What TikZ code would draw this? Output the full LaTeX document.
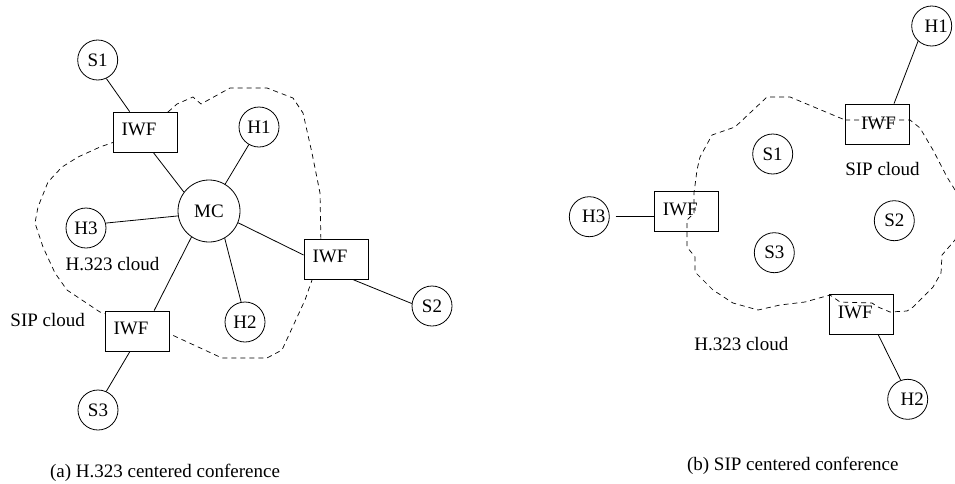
\documentclass[tikz,border=0pt]{standalone}
\usepackage{fontspec}
\setmainfont{Liberation Serif}
\begin{document}
\begin{tikzpicture}[x=1pt,y=-1pt,line width=0.8pt,
  every node/.style={font=\fontsize{19}{22}\selectfont},
  site/.style={circle,draw,minimum size=40pt,inner sep=0pt},
  hub/.style={circle,draw,minimum size=62pt,inner sep=0pt},
  iwfbox/.style={rectangle,draw,minimum width=64pt,minimum height=40pt,
    inner sep=0pt,text height=12pt,text depth=4.6pt},
  opaque/.style={fill=white},
  cloudline/.style={dash pattern=on 5pt off 4pt,line width=0.7pt,line join=round},
  link/.style={line width=0.8pt}]
\clip (0,0) rectangle (955,483);

% ---------------- (a) H.323 centered conference ----------------
% H.323 cloud outline (runs behind the IWF boxes)
\draw[cloudline] (168,112) -- (177,104) -- (193,97) -- (201,104) -- (230,88)
  -- (267,88) -- (293,98) -- (303,113) -- (312,153) -- (320,193) -- (321,245)
  -- (312,280) -- (305,300) -- (282,350) -- (267,358) -- (222,358) -- (170,334)
  -- (100,312) -- (67,290) -- (55,273) -- (43,247) -- (35,223) -- (38,207)
  -- (48,182) -- (62,167) -- (78,157) -- (100,147) -- (120,140) -- cycle;

\node[site] (s1a) at (97.7,60) {S1};
\node[iwfbox,opaque] (iwfa1) at (145,132) {IWF\hspace*{12pt}};
\node[site] (h1a) at (259,127) {H1};
\node[hub] (mc) at (209,211) {MC};
\node[site] (h3a) at (86,228) {H3};
\node[iwfbox,opaque] (iwfa2) at (336,259) {IWF\hspace*{12pt}};
\node[site] (s2a) at (432,306) {S2};
\node[site] (h2a) at (245,322) {H2};
\node[iwfbox,opaque] (iwfa3) at (137,331) {IWF\hspace*{12pt}};
\node[site] (s3a) at (98,410) {S3};

\node[anchor=base] (h323a) at (112.5,270.7) {H.323 cloud};
\node[anchor=base] (sipa) at (47.7,326.7) {SIP cloud};
\node[anchor=base] (capa) at (165,477) {(a) H.323 centered conference};

\draw[link] (s1a.-65) -- (iwfa1.127);
\draw[link] (iwfa1.-68) -- (mc.143);
\draw[link] (h1a.240) -- (mc.59);
\draw[link] (h3a.14) -- (mc.189);
\draw[link] (mc.-22) -- (iwfa2.173);
\draw[link] (iwfa2.-51) -- (s2a.173);
\draw[link] (mc.-60) -- (h2a.101);
\draw[link] (mc.236) -- (iwfa3.50);
\draw[link] (iwfa3.-109) -- (s3a.66);

% ---------------- (b) SIP centered conference ----------------
% SIP cloud outline (crosses the IWF boxes)
\draw[cloudline] (845,120) -- (910,120) -- (920,128) -- (933,150) -- (947,177)
  -- (955,190) -- (961,215) -- (955,240) -- (942,255) -- (941,273) -- (933,287)
  -- (913,307) -- (907,311) -- (890,312) -- (878,307) -- (872,303) -- (840,302)
  -- (830,295) -- (805,302) -- (780,305) -- (758,310) -- (733,303) -- (713,290)
  -- (695,272) -- (695,257) -- (687,247) -- (687,220) -- (694,213) -- (694,193)
  -- (697,170) -- (700,157) -- (712,135) -- (735,127) -- (767,97) -- (790,97)
  -- cycle;

\node[site] (h1b) at (931.7,26) {\hspace*{9pt}H1};
\node[iwfbox,text height=14pt,text depth=4pt] (iwfb1) at (877.5,124) {\hspace*{2pt}IWF};
\node[site] (s1b) at (772.7,154) {S1};
\node[site] (s2b) at (894.3,220.7) {S2};
\node[site] (s3b) at (774.3,252.7) {S3};
\node[iwfbox] (iwfb2) at (686.3,211.3) {IWF\hspace*{12pt}};
\node[site] (h3b) at (589.3,216.7) {\hspace*{9pt}H3};
\node[iwfbox] (iwfb3) at (861.3,314.7) {IWF\hspace*{12pt}};
\node[site] (h2b) at (907.7,399.3) {\hspace*{9pt}H2};

\node[anchor=base] (sipb) at (882.5,175.7) {SIP cloud};
\node[anchor=base] (h323b) at (741.3,350.7) {H.323 cloud};
\node[anchor=base] (capb) at (792.8,470) {(b) SIP centered conference};

\draw[link] (h1b.228) -- (iwfb1.51);
\draw[link,shorten <=6pt] (h3b.east) -- (iwfb2.west |- h3b.east);
\draw[link] (iwfb3.-50) -- (h2b.110);
\end{tikzpicture}
\end{document}
